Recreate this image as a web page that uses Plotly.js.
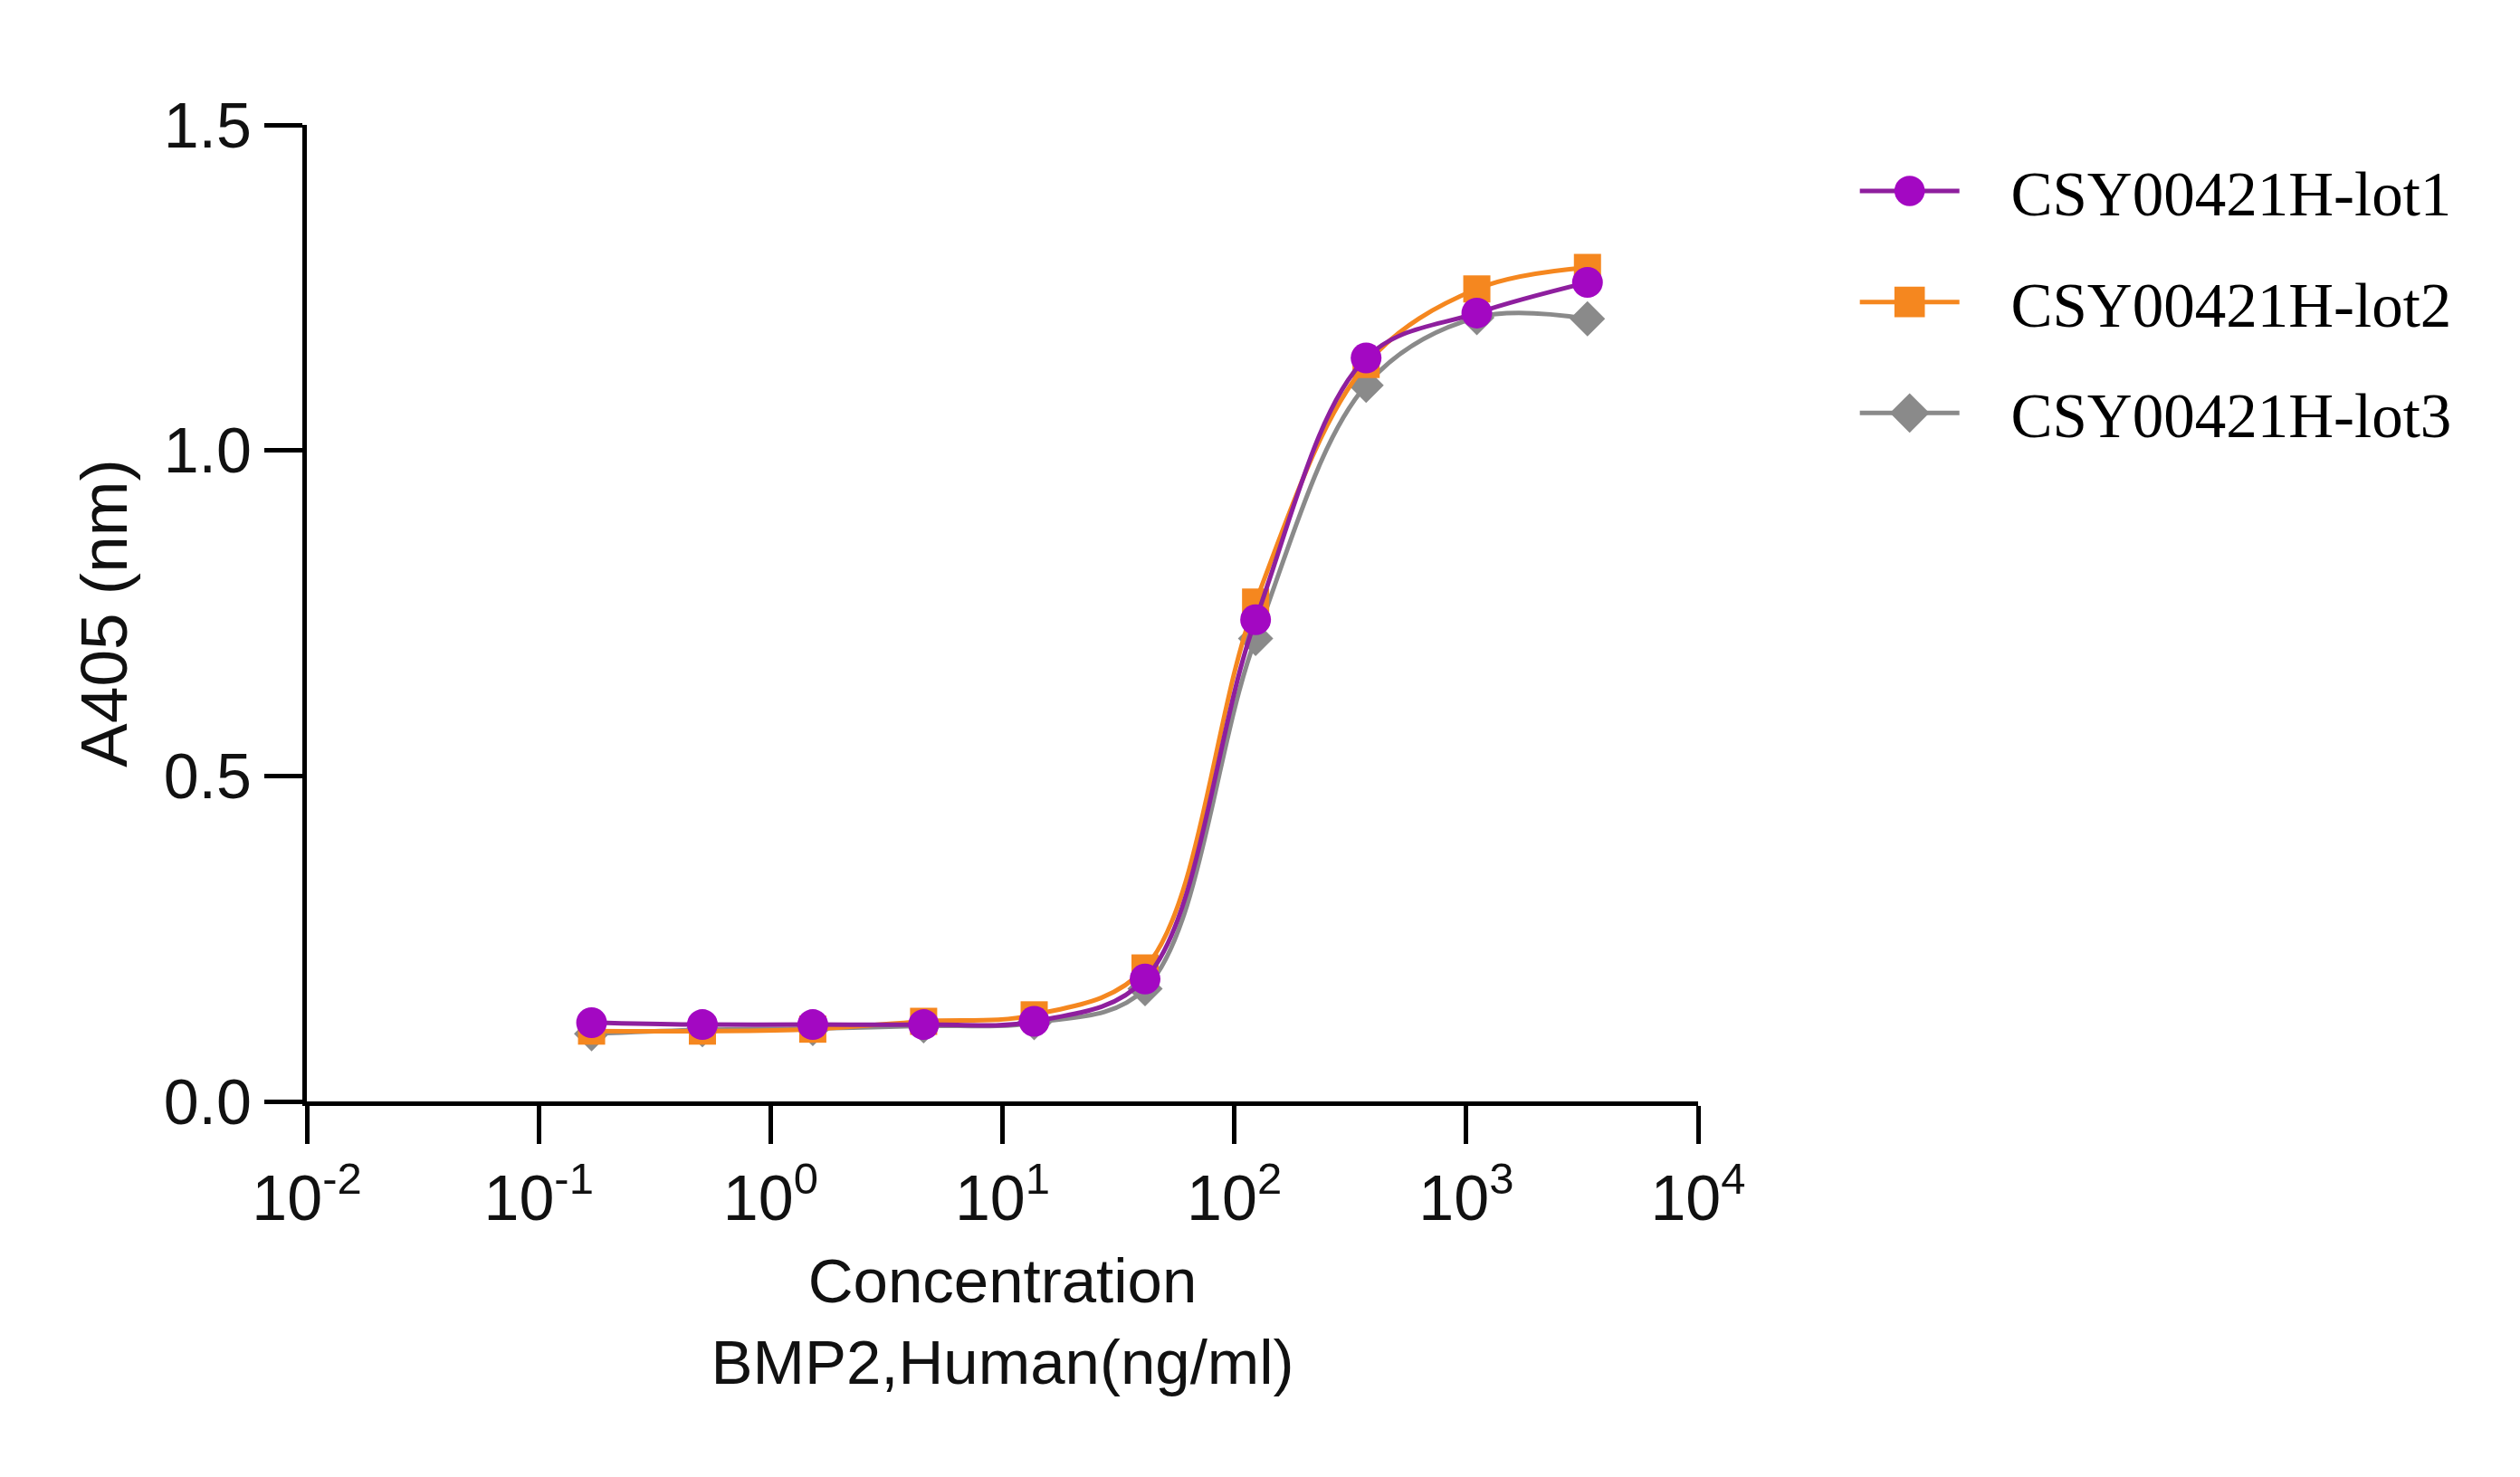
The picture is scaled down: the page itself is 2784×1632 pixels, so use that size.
<!DOCTYPE html>
<html>
<head>
<meta charset="utf-8">
<script src="https://cdn.plot.ly/plotly-3.0.1.min.js"></script>
<style>
  html, body { margin: 0; padding: 0; background: #ffffff; }
  #chart { width: 2784px; height: 1632px; }
</style>
</head>
<body>
<div id="chart"></div>
<script>
// Concentration of BMP2 (ng/ml), 3-fold serial dilution
const concentration = [0.169, 0.508, 1.52, 4.57, 13.7, 41.2, 123.5, 370, 1111, 3333];

// A405 readings per lot
const lot1 = [0.121, 0.118, 0.118, 0.118, 0.123, 0.188, 0.740, 1.142, 1.211, 1.258];
const lot2 = [0.108, 0.108, 0.111, 0.123, 0.133, 0.205, 0.767, 1.132, 1.248, 1.281];
const lot3 = [0.104, 0.110, 0.112, 0.116, 0.121, 0.173, 0.711, 1.100, 1.204, 1.202];

const seriesNames = ['CSY00421H-lot1', 'CSY00421H-lot2', 'CSY00421H-lot3'];
const xTickVals = [0.01, 0.1, 1, 10, 100, 1000, 10000];
const xTickText = ['10<sup>-2</sup>', '10<sup>-1</sup>', '10<sup>0</sup>', '10<sup>1</sup>',
                   '10<sup>2</sup>', '10<sup>3</sup>', '10<sup>4</sup>'];
const yTickVals = [0, 0.5, 1.0, 1.5];
const yTickText = ['0.0', '0.5', '1.0', '1.5'];

const colors = {
    lot1Line: '#8e1f9e',
    lot1Marker: '#a308c2',
    lot2: '#f5871f',
    lot3: '#8a8a8a'
};

// nbsp keeps the gap between legend symbol and label
const pad = '\u00a0\u00a0\u00a0';

function makeTrace(y, name, rank, lineColor, markerColor, symbol, size) {
    return {
        type: 'scatter',
        mode: 'lines+markers',
        x: concentration,
        y: y,
        name: pad + name,
        legendgroup: 'g' + rank,
        legendrank: rank,
        line: { color: lineColor, width: 5, shape: 'spline', smoothing: 1.0 },
        marker: { color: markerColor, symbol: symbol, size: size, line: { width: 0 } }
    };
}

// drawn bottom to top: lot3, lot2, lot1
const traces = [
    makeTrace(lot3, seriesNames[2], 3, colors.lot3, colors.lot3, 'diamond', 30),
    makeTrace(lot2, seriesNames[1], 2, colors.lot2, colors.lot2, 'square', 30),
    makeTrace(lot1, seriesNames[0], 1, colors.lot1Line, colors.lot1Marker, 'circle', 34)
];

const axisFont = { family: 'Liberation Sans, Arial, sans-serif', size: 70, color: '#111111' };

const layout = {
    width: 2784,
    height: 1632,
    paper_bgcolor: '#ffffff',
    plot_bgcolor: '#ffffff',
    margin: { l: 339, r: 908, t: 138, b: 415 },
    showlegend: true,
    legend: {
        x: 1.113,
        xanchor: 'left',
        y: 0.980,
        yanchor: 'top',
        traceorder: 'grouped',
        tracegroupgap: 30,
        itemwidth: 110,
        font: { family: 'Liberation Serif, Times New Roman, serif', size: 69, color: '#000000' },
        bgcolor: 'rgba(0,0,0,0)'
    },
    xaxis: {
        type: 'log',
        range: [-2, 4],
        tickvals: xTickVals,
        ticktext: xTickText,
        showgrid: false,
        zeroline: false,
        showline: true,
        linecolor: '#000000',
        linewidth: 5,
        ticks: 'outside',
        ticklen: 42,
        tickwidth: 5,
        tickcolor: '#000000',
        tickfont: axisFont,
        title: {
            text: 'Concentration<br>BMP2,Human(ng/ml)',
            font: { family: 'Liberation Sans, Arial, sans-serif', size: 69, color: '#111111' },
            standoff: 30
        }
    },
    yaxis: {
        range: [0, 1.5],
        tickvals: yTickVals,
        ticktext: yTickText,
        showgrid: false,
        zeroline: false,
        showline: true,
        linecolor: '#000000',
        linewidth: 5,
        ticks: 'outside',
        ticklen: 42,
        tickwidth: 5,
        tickcolor: '#000000',
        tickfont: axisFont,
        title: {
            text: 'A405 (nm)',
            font: { family: 'Liberation Sans, Arial, sans-serif', size: 73, color: '#111111' },
            standoff: 18
        }
    }
};

Plotly.newPlot('chart', traces, layout, { displayModeBar: false, staticPlot: true }).then(function (gd) {
    // legend symbols are capped at 16px by plotly; enlarge them to match the plot markers
    gd.querySelectorAll('.legend .legendpoints path.scatterpts').forEach(function (p) {
        const t = p.getAttribute('transform') || '';
        p.setAttribute('transform', t + ' scale(2.1)');
    });
});
</script>
</body>
</html>
